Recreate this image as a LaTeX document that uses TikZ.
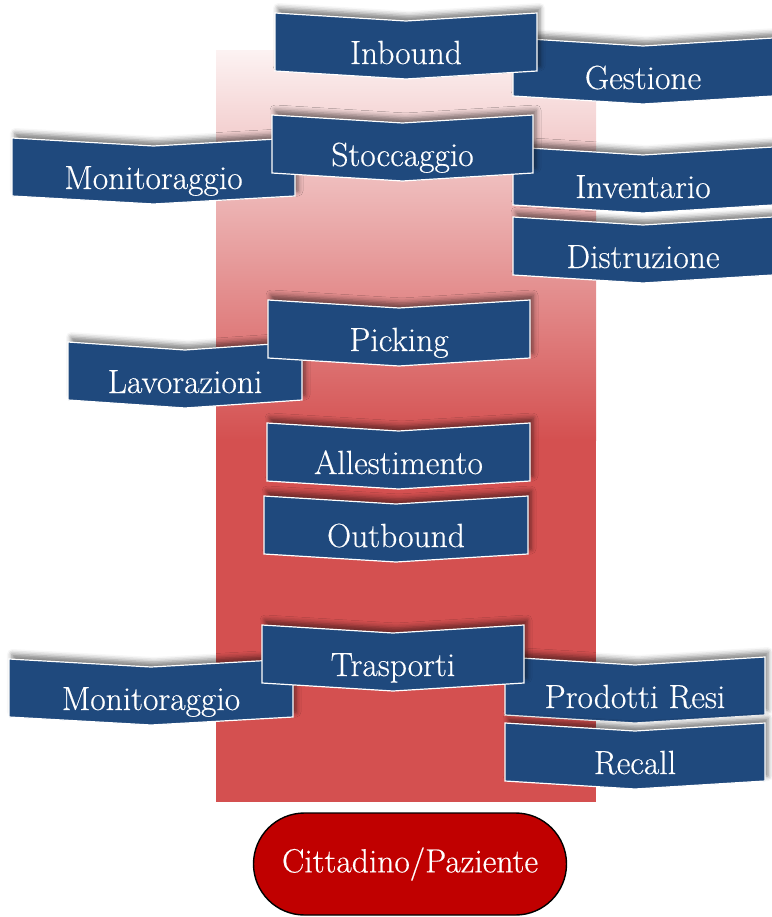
\documentclass[tikz,border=0pt]{standalone}
\usepackage{fontspec}
\setmainfont{Latin Modern Roman}[FakeBold=0.4]
\usetikzlibrary{shadows.blur}
\definecolor{bannerblue}{RGB}{31,73,125}
\definecolor{bgtop}{RGB}{252,242,242}
\definecolor{bgred}{RGB}{212,80,80}
\definecolor{citizenred}{RGB}{192,0,0}
% chevron banner: name, left, top, right, text
\newcommand{\bannerbox}[5]{%
  \draw[banner] (#2,#3) -- ({(#2+#4)/2},#3+8) -- (#4,#3) -- (#4,#3+58)
    -- ({(#2+#4)/2},#3+66) -- (#2,#3+58) -- cycle;
  \node[bannertext] (#1) at ({(#2+#4)/2},#3+51) {#5};}
\begin{document}
\begin{tikzpicture}[x=1pt,y=-1pt,inner sep=0pt,outer sep=0pt,
banner/.style={draw=white,line width=1.2pt,fill=bannerblue,
  blur shadow={shadow xshift=3pt,shadow yshift=5pt,shadow blur radius=5pt,shadow opacity=50}},
bannertext/.style={text=white,anchor=base,font=\fontsize{33.5}{38}\selectfont},
citizen/.style={draw=black,line width=1.4pt,fill=citizenred,rounded corners=51pt,
  minimum width=313pt,minimum height=102pt,text=white,font=\fontsize{33.5}{38}\selectfont}]
\useasboundingbox (0,0) rectangle (771,917);
% background column
\shade[top color=bgtop,bottom color=bgred] (216,51) rectangle (596,440);
\fill[bgred] (216,439) rectangle (596,802);
% side banners
\bannerbox{gest}{513}{38}{773}{Gestione}
\bannerbox{inb}{275}{13}{537}{Inbound}
\bannerbox{monA}{12}{138}{295}{Monitoraggio}
\bannerbox{inv}{513}{147}{773}{Inventario}
\bannerbox{dis}{513}{217}{773}{Distruzione}
\bannerbox{sto}{272}{115}{533}{Stoccaggio}
\bannerbox{lav}{68}{342}{302}{Lavorazioni}
\bannerbox{pick}{268}{300}{530}{Picking}
\bannerbox{alle}{267}{423}{530}{Allestimento}
\bannerbox{outb}{264}{496}{528}{Outbound}
\bannerbox{monB}{9}{659}{293}{Monitoraggio}
\bannerbox{resi}{505}{657}{765}{Prodotti Resi}
\bannerbox{rec}{505}{723}{765}{Recall}
\bannerbox{tra}{262}{625}{524}{Trasporti}
% end user
\node[citizen] (paz) at (410,864) {Cittadino/Paziente};
\end{tikzpicture}
\end{document}
